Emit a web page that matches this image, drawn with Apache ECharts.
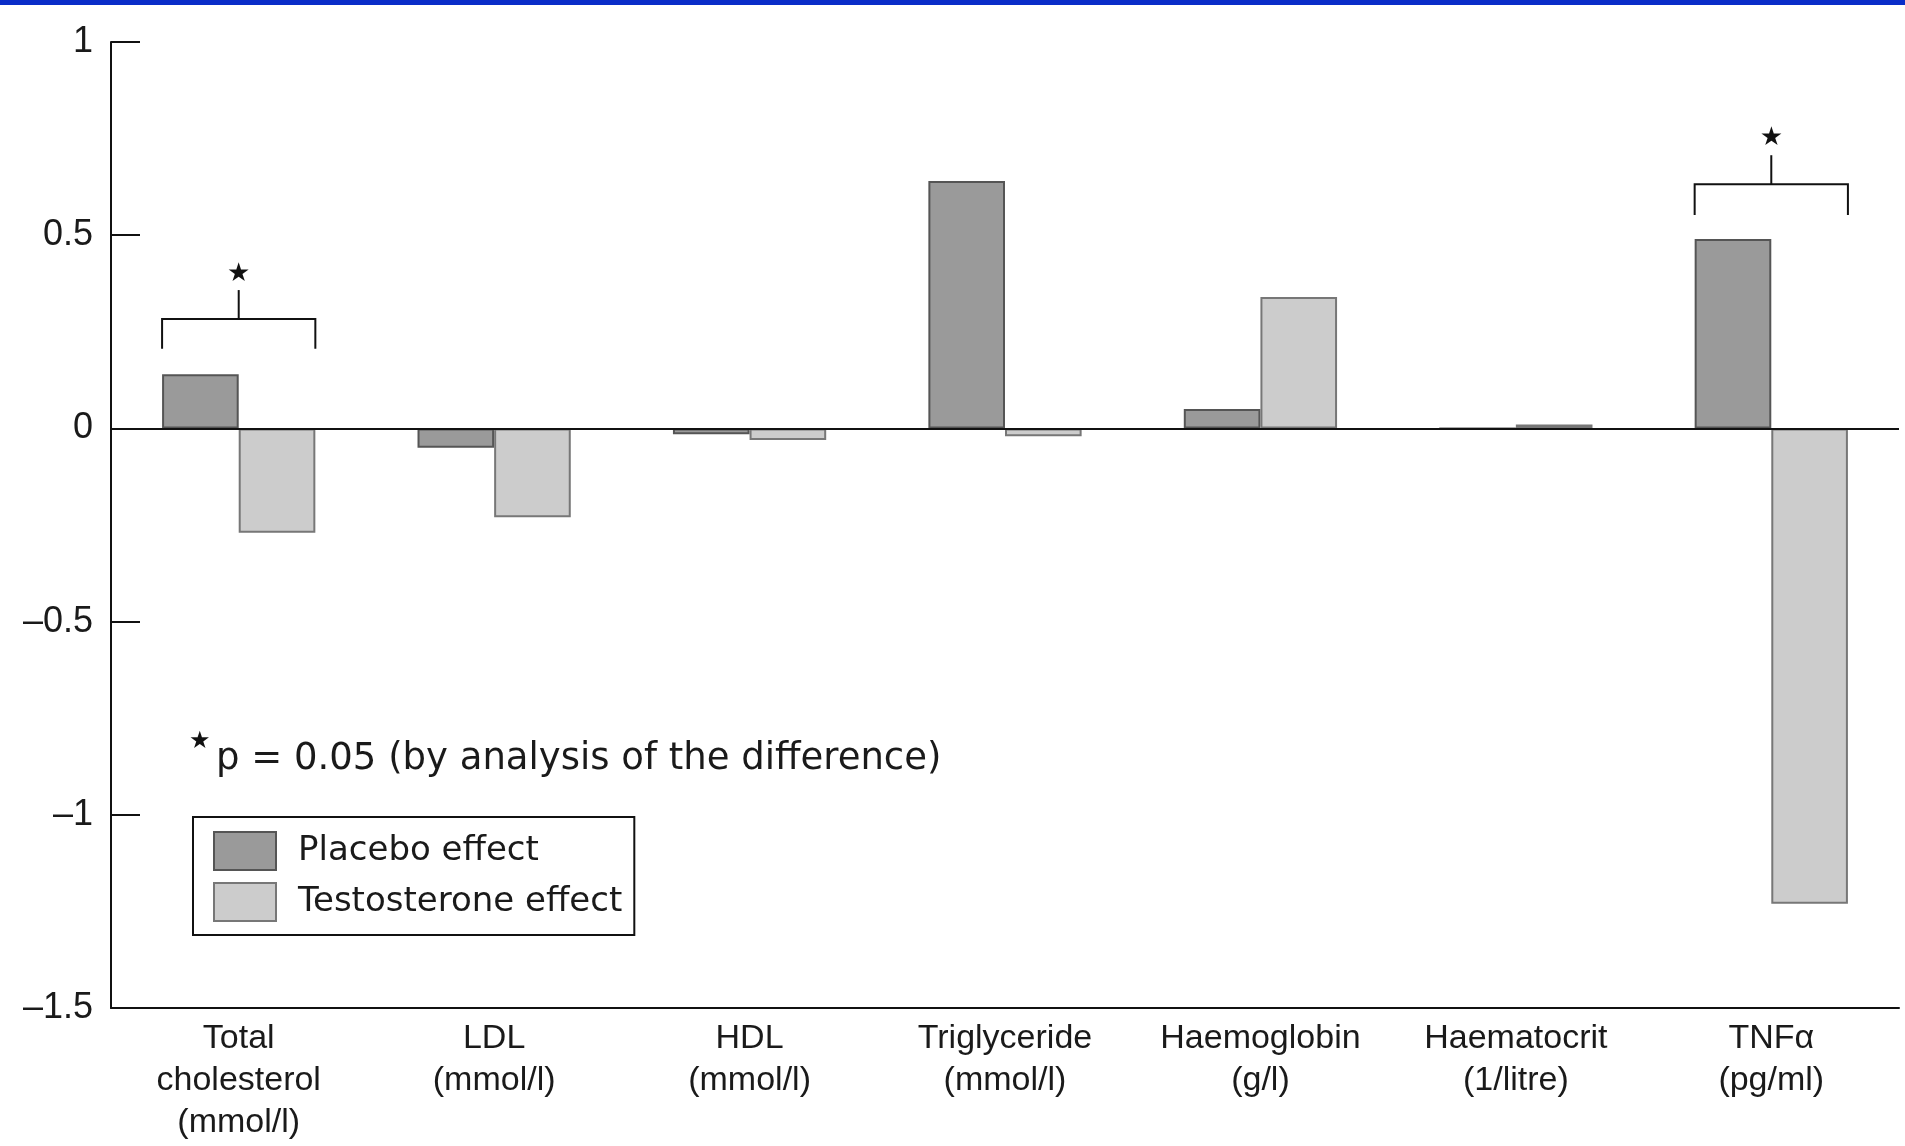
<!DOCTYPE html>
<html>
<head>
<meta charset="utf-8">
<script src="https://cdn.jsdelivr.net/npm/echarts@6/dist/echarts.min.js"></script>
<style>
html,body{margin:0;padding:0;background:#fff;}
#chart{width:1905px;height:1146px;}
</style>
</head>
<body>
<div id="chart"></div>
<script>
const categories = ['Total\ncholesterol\n(mmol/l)', 'LDL\n(mmol/l)', 'HDL\n(mmol/l)', 'Triglyceride\n(mmol/l)', 'Haemoglobin\n(g/l)', 'Haematocrit\n(1/litre)', 'TNFα\n(pg/ml)'];
const placebo = [0.14, -0.05, -0.015, 0.64, 0.05, 0, 0.49];
const testosterone = [-0.27, -0.23, -0.03, -0.02, 0.34, 0.01, -1.23];
const seriesNames = ['Placebo effect', 'Testosterone effect'];
// significance brackets: category index, leg bottom, bracket bar, stem top, star
const bracketCat = [0, 6];
const bracketLeg = [0.206, 0.552];
const bracketBar = [0.283, 0.632];
const bracketStem = [0.358, 0.707];
const bracketStar = [0.40, 0.75];
const footnote = 'p = 0.05 (by analysis of the difference)';

const FONT = '"Liberation Sans", Arial, sans-serif';
const WIDE = '"DejaVu Sans", sans-serif';
const chart = echarts.init(document.getElementById('chart'), null, {renderer: 'canvas'});

const bracketData = bracketCat.map((c, i) => [c, bracketLeg[i], bracketBar[i], bracketStem[i], bracketStar[i]]);

chart.setOption({
  animation: false,
  backgroundColor: '#ffffff',
  grid: {left: 111, right: 6, top: 42, bottom: 138, containLabel: false, outerBoundsMode: 'none'},
  graphic: [
    {type: 'rect', left: 0, top: 0, shape: {width: 1905, height: 5}, style: {fill: '#0a2dc8'}},
    {type: 'text', left: 189, top: 730, style: {text: '★', font: '24px "DejaVu Sans", sans-serif', fill: '#111'}},
    {type: 'text', left: 216, top: 741, style: {text: footnote, font: '37px ' + WIDE, fill: '#1a1a1a'}}
  ],
  legend: {
    data: seriesNames,
    orient: 'vertical',
    left: 193, top: 817,
    padding: [14, 12, 13, 20],
    icon: 'rect',
    itemWidth: 62, itemHeight: 38, itemGap: 11,
    borderColor: '#111', borderWidth: 2,
    textStyle: {fontFamily: WIDE, fontSize: 34, color: '#1a1a1a', padding: [0, 0, 0, 17]},
    selectedMode: false
  },
  xAxis: {
    type: 'category',
    data: categories,
    boundaryGap: true,
    axisLine: {onZero: false, lineStyle: {color: '#111', width: 2}},
    axisTick: {inside: true, length: 25, lineStyle: {color: '#111', width: 2}},
    axisLabel: {interval: 0, margin: 10, fontFamily: FONT, fontSize: 34, lineHeight: 42, color: '#1a1a1a'},
    splitLine: {show: false}
  },
  yAxis: {
    type: 'value',
    min: -1.5, max: 1, interval: 0.5,
    axisLine: {show: true, lineStyle: {color: '#111', width: 2}},
    axisTick: {show: true, inside: true, length: 29, lineStyle: {color: '#111', width: 2}},
    axisLabel: {margin: 18, fontFamily: FONT, fontSize: 36, color: '#1a1a1a',
      formatter: v => v < 0 ? '–' + Math.abs(v) : String(v)},
    splitLine: {show: false}
  },
  series: [
    {
      name: seriesNames[0], type: 'bar', data: placebo,
      barGap: '0%', barCategoryGap: '40%',
      itemStyle: {color: '#9a9a9a', borderColor: '#555', borderWidth: 2},
      markLine: {symbol: 'none', silent: true, label: {show: false},
        lineStyle: {color: '#111', width: 2, type: 'solid'}, data: [{yAxis: 0}]}
    },
    {
      name: seriesNames[1], type: 'bar', data: testosterone,
      barGap: '0%', barCategoryGap: '40%',
      itemStyle: {color: '#cccccc', borderColor: '#777', borderWidth: 2}
    },
    {
      type: 'custom', name: 'sig', data: bracketData,
      encode: {x: 0, y: 1}, silent: true, z: 5,
      renderItem: function (params, api) {
        const ci = api.value(0);
        const leg = api.coord([ci, api.value(1)]);
        const bar = api.coord([ci, api.value(2)]);
        const stem = api.coord([ci, api.value(3)]);
        const star = api.coord([ci, api.value(4)]);
        const half = api.size([1, 0])[0] * 0.3;
        const x = leg[0];
        return {
          type: 'group',
          children: [
            {type: 'polyline', shape: {points: [[x - half, leg[1]], [x - half, bar[1]], [x + half, bar[1]], [x + half, leg[1]]]},
              style: {stroke: '#111', lineWidth: 2, fill: null}},
            {type: 'line', shape: {x1: x, y1: bar[1], x2: x, y2: stem[1]}, style: {stroke: '#111', lineWidth: 2}},
            {type: 'text', x: x, y: star[1], style: {text: '★', font: '26px "DejaVu Sans", sans-serif', fill: '#111', align: 'center', verticalAlign: 'middle'}}
          ]
        };
      }
    }
  ]
});
</script>
</body>
</html>
